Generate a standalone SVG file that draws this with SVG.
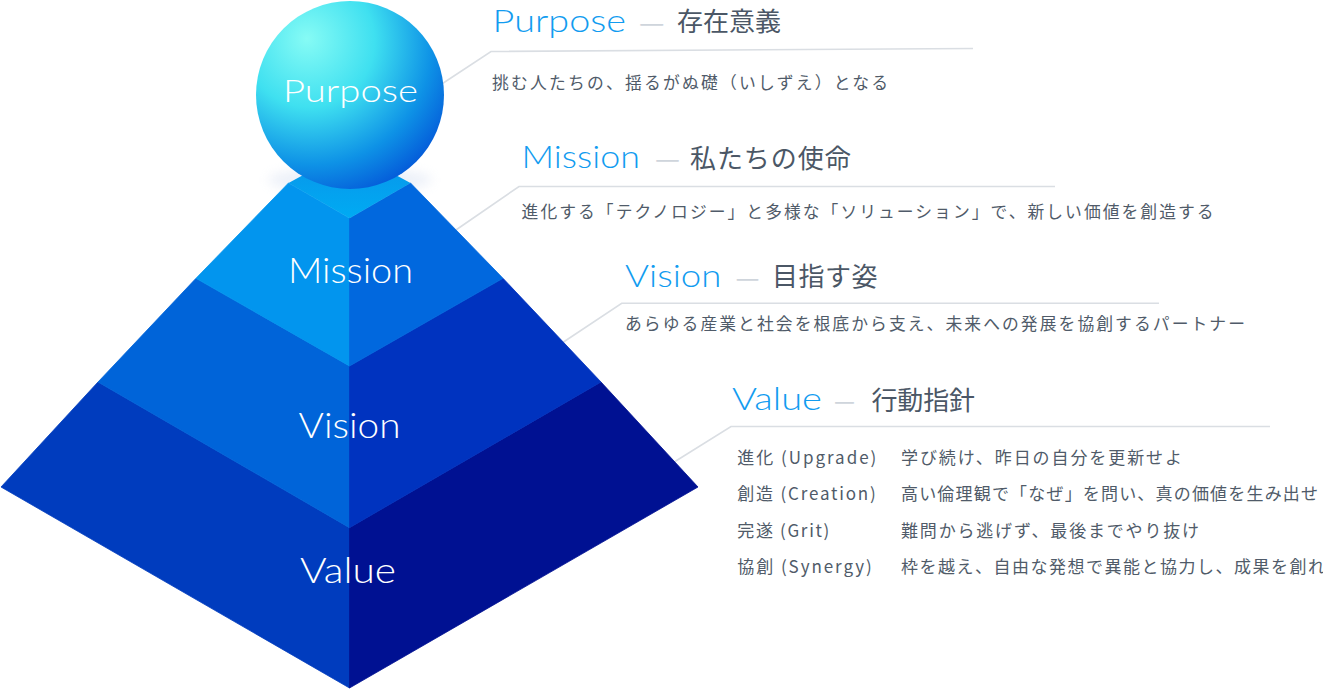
<svg xmlns="http://www.w3.org/2000/svg" width="1323" height="689" viewBox="0 0 1323 689">
  <defs>
    <radialGradient id="sphereGrad" cx="0.3" cy="0.24" r="0.92" fx="0.27" fy="0.2">
      <stop offset="0" stop-color="#86fbf5"/>
      <stop offset="0.38" stop-color="#3fe0f0"/>
      <stop offset="0.7" stop-color="#0e92e6"/>
      <stop offset="1" stop-color="#0044d4"/>
    </radialGradient>
    <linearGradient id="topGrad" x1="0" y1="0" x2="0" y2="1">
      <stop offset="0" stop-color="#0a92e8"/>
      <stop offset="1" stop-color="#00abf3"/>
    </linearGradient>
    <filter id="haze" x="-50%" y="-100%" width="200%" height="300%">
      <feGaussianBlur stdDeviation="6"/>
    </filter>
    <style>
      .lbl { font-family: Lato, "Noto Sans", "Liberation Sans", sans-serif; font-weight: 300; fill: #ffffff; text-anchor: middle; }
      .hdr { font-family: Lato, "Noto Sans", "Liberation Sans", sans-serif; font-weight: 300; font-size: 32px; fill: #129cf0; }
      .dash { font-family: "Noto Sans CJK JP", sans-serif; font-size: 26px; fill: #cfd5dc; }
      .jph { font-family: "Noto Sans CJK JP", sans-serif; font-size: 26px; fill: #4b5766; }
      .desc { font-family: "Noto Sans CJK JP", sans-serif; font-size: 16.8px; fill: #505b69; }
      .row { font-family: "Noto Sans CJK JP", sans-serif; font-size: 17px; fill: #505b69; }
      .conn { stroke: #dadee3; stroke-width: 1.6; fill: none; }
      .face { stroke-width: 0.8; stroke-linejoin: round; }
    </style>
  </defs>

  <rect x="0" y="0" width="1323" height="689" fill="#ffffff"/>

  <g id="connectors">
    <polyline class="conn" points="973,48.5 491,51.5 441,84.5"/>
    <polyline class="conn" points="1055,186.5 519,186.5 453,232"/>
    <polyline class="conn" points="1159,303.3 621.7,303.3 559,345"/>
    <polyline class="conn" points="1270,426.5 731,426.5 671,464"/>
  </g>

  <ellipse cx="350" cy="180" rx="82" ry="12" fill="#d3ddf0" opacity="0.45" filter="url(#haze)"/>

  <g id="value">
    <polygon class="face" points="1,487 98,382 349.5,527.7 349.5,688" fill="#003cbe" stroke="#003cbe"/>
    <polygon class="face" points="698,487 601,382 349.5,527.7 349.5,688" fill="#001192" stroke="#001192"/>
    <text class="lbl" x="348" y="583" font-size="35" textLength="96" lengthAdjust="spacingAndGlyphs">Value</text>
    <text class="hdr" x="732" y="410" textLength="90" lengthAdjust="spacingAndGlyphs">Value</text>
    <text class="dash" x="834" y="410" textLength="21" lengthAdjust="spacingAndGlyphs">—</text>
    <text class="jph" x="871.5" y="409.5" textLength="103.5" lengthAdjust="spacing">行動指針</text>
    <g>
      <text class="row" x="737.3" y="464" textLength="139" lengthAdjust="spacing">進化 (Upgrade)</text>
      <text class="row" x="901" y="464" textLength="281" lengthAdjust="spacing">学び続け、昨日の自分を更新せよ</text>
      <text class="row" x="737.3" y="500.3" textLength="138.5" lengthAdjust="spacing">創造 (Creation)</text>
      <text class="row" x="901" y="500.3" textLength="417" lengthAdjust="spacing">高い倫理観で「なぜ」を問い、真の価値を生み出せ</text>
      <text class="row" x="737.3" y="536.6" textLength="92" lengthAdjust="spacing">完遂 (Grit)</text>
      <text class="row" x="901" y="536.6" textLength="298" lengthAdjust="spacing">難問から逃げず、最後までやり抜け</text>
      <text class="row" x="737.3" y="573" textLength="134.5" lengthAdjust="spacing">協創 (Synergy)</text>
      <text class="row" x="901" y="573" textLength="424" lengthAdjust="spacing">枠を越え、自由な発想で異能と協力し、成果を創れ</text>
    </g>
  </g>

  <g id="vision">
    <polygon class="face" points="98,382 196,278.3 349.5,366 349.5,527.7" fill="#0064d9" stroke="#0064d9"/>
    <polygon class="face" points="601,382 503,278.3 349.5,366 349.5,527.7" fill="#0033bf" stroke="#0033bf"/>
    <text class="lbl" x="349.5" y="438" font-size="35" textLength="102" lengthAdjust="spacingAndGlyphs">Vision</text>
    <text class="hdr" x="625" y="286.7" textLength="96.4" lengthAdjust="spacingAndGlyphs">Vision</text>
    <text class="dash" x="735.5" y="286.7" textLength="24" lengthAdjust="spacingAndGlyphs">—</text>
    <text class="jph" x="772" y="286" textLength="105.5" lengthAdjust="spacing">目指す姿</text>
    <text class="desc" x="625" y="330" textLength="620" lengthAdjust="spacing">あらゆる産業と社会を根底から支え、未来への発展を協創するパートナー</text>
  </g>

  <g id="mission">
    <polygon class="face" points="196,278.3 288.5,183 349.5,218.3 349.5,366" fill="#0295ee" stroke="#0295ee"/>
    <polygon class="face" points="503,278.3 410.5,183 349.5,218.3 349.5,366" fill="#0168de" stroke="#0168de"/>
    <polygon points="288.5,183 349.5,150 410.5,183 349.5,218.3" fill="url(#topGrad)"/>
    <text class="lbl" x="350.5" y="283" font-size="35" textLength="125" lengthAdjust="spacingAndGlyphs">Mission</text>
    <text class="hdr" x="521.6" y="168.3" textLength="118.4" lengthAdjust="spacingAndGlyphs">Mission</text>
    <text class="dash" x="655" y="168.3" textLength="25" lengthAdjust="spacingAndGlyphs">—</text>
    <text class="jph" x="690" y="167.8" textLength="160.7" lengthAdjust="spacing">私たちの使命</text>
    <text class="desc" x="521.6" y="218" textLength="692" lengthAdjust="spacing">進化する「テクノロジー」と多様な「ソリューション」で、新しい価値を創造する</text>
  </g>

  <g id="purpose">
    <circle cx="350" cy="95" r="94" fill="url(#sphereGrad)"/>
    <text class="lbl" x="350.5" y="102" font-size="32" textLength="135" lengthAdjust="spacingAndGlyphs">Purpose</text>
    <text class="hdr" x="492.6" y="31.7" textLength="133.4" lengthAdjust="spacingAndGlyphs">Purpose</text>
    <text class="dash" x="639" y="31.7" textLength="25.5" lengthAdjust="spacingAndGlyphs">—</text>
    <text class="jph" x="677" y="31.2" textLength="104" lengthAdjust="spacing">存在意義</text>
    <text class="desc" x="492" y="89" textLength="396" lengthAdjust="spacing">挑む人たちの、揺るがぬ礎（いしずえ）となる</text>
  </g>
</svg>
